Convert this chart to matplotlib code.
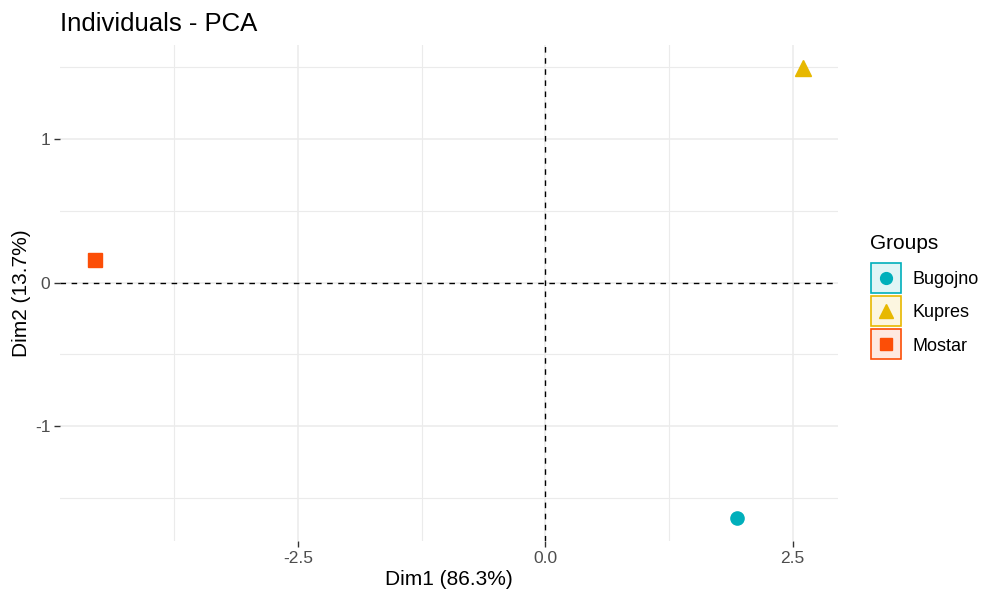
import matplotlib.pyplot as plt
from matplotlib.colors import to_rgb
from matplotlib.lines import Line2D
from matplotlib.legend_handler import HandlerTuple
from matplotlib.ticker import MultipleLocator

plt.rcParams['font.family'] = ['Liberation Sans', 'DejaVu Sans']

# PCA individual coordinates
groups = ["Bugojno", "Kupres", "Mostar"]
dim1 = [1.94, 2.60, -4.545]
dim2 = [-1.64, 1.495, 0.159]
colors = ["#00AFBB", "#E7B800", "#FC4E07"]
markers = ["o", "^", "s"]
sizes = [9.5, 11.5, 9.5]
var_explained = [86.3, 13.7]

fig = plt.figure(figsize=(9.82, 5.98), dpi=100)
ax = fig.add_axes([60 / 982, 57 / 598, 778 / 982, 496 / 598])

for g, x, y, c, m, s in zip(groups, dim1, dim2, colors, markers, sizes):
    ax.plot(x, y, marker=m, color=c, markersize=s, linestyle="none", zorder=4)

# ggplot-style 5% expansion of the data range
xmin, xmax = min(dim1), max(dim1)
ymin, ymax = min(dim2), max(dim2)
ax.set_xlim(xmin - 0.05 * (xmax - xmin), xmax + 0.05 * (xmax - xmin))
ax.set_ylim(ymin - 0.05 * (ymax - ymin), ymax + 0.05 * (ymax - ymin))

ax.axhline(0, color="black", lw=1, ls=(0, (4, 4)), zorder=3)
ax.axvline(0, color="black", lw=1, ls=(0, (4, 4)), zorder=3)

ax.xaxis.set_major_locator(MultipleLocator(2.5))
ax.xaxis.set_minor_locator(MultipleLocator(1.25))
ax.yaxis.set_major_locator(MultipleLocator(1))
ax.yaxis.set_minor_locator(MultipleLocator(0.5))
ax.xaxis.set_major_formatter(lambda v, p: f"{v:.1f}")
ax.yaxis.set_major_formatter(lambda v, p: f"{v:.0f}")

ax.grid(which="major", color="#EBEBEB", lw=1.1)
ax.grid(which="minor", color="#EBEBEB", lw=0.8)
ax.set_axisbelow(True)
for sp in ax.spines.values():
    sp.set_visible(False)
ax.tick_params(which="major", length=4, width=1, color="#333333",
               labelcolor="#4D4D4D", labelsize=12.5, pad=3)
ax.tick_params(which="minor", length=0)

ax.set_xlabel(f"Dim1 ({var_explained[0]}%)", fontsize=15, labelpad=3)
ax.set_ylabel(f"Dim2 ({var_explained[1]}%)", fontsize=15, labelpad=3)
ax.set_title("Individuals - PCA", fontsize=18.5, loc="left", x=0, pad=10)

# legend keys: tinted square box with the group's marker on top
handles = []
for c, m, s in zip(colors, markers, sizes):
    box = Line2D([], [], marker="s", markersize=21.5, markerfacecolor=(*to_rgb(c), 0.12),
                 markeredgecolor=c, markeredgewidth=1.2, linestyle="none")
    mk = Line2D([], [], marker=m, color=c, markersize=s - 1, linestyle="none")
    handles.append((box, mk))

leg = fig.legend(handles, groups, handler_map={tuple: HandlerTuple(ndivide=1, pad=0)},
                 loc="upper left", bbox_to_anchor=(870 / 982, 1 - 234 / 598),
                 frameon=False, title="Groups", title_fontsize=15, fontsize=13,
                 handlelength=1.75, handleheight=0.7, handletextpad=0.6,
                 labelspacing=0.9, borderpad=0, borderaxespad=0, alignment="left")
leg._legend_box.sep = 13  # gap between title and keys

fig.savefig("out.png", dpi=100)
